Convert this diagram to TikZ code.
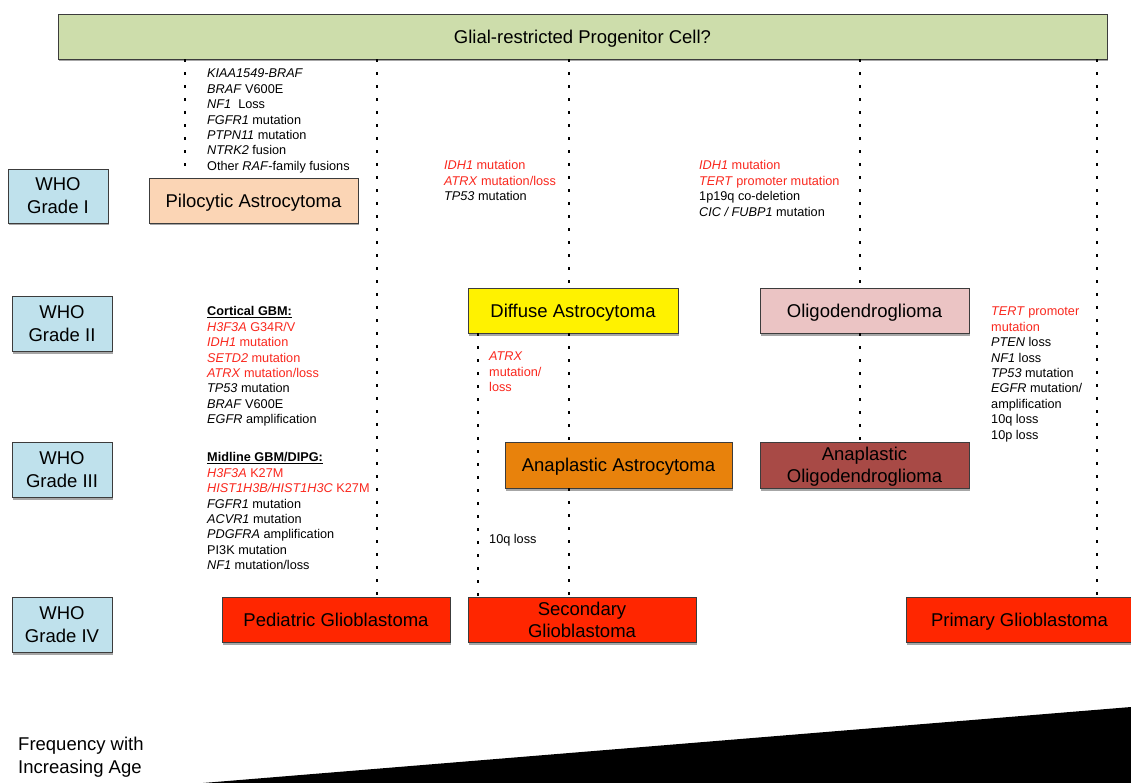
\documentclass[tikz,border=0pt]{standalone}
\usepackage{fontspec}
\setmainfont{Liberation Sans}
\usetikzlibrary{shadows}
\definecolor{topgreen}{RGB}{205,221,171}
\definecolor{whoblue}{RGB}{191,225,236}
\definecolor{peach}{RGB}{251,213,181}
\definecolor{oligopink}{RGB}{235,196,196}
\definecolor{aaorange}{RGB}{232,130,12}
\definecolor{aobrown}{RGB}{168,74,70}
\definecolor{gbmred}{RGB}{255,38,0}
\definecolor{txtred}{RGB}{250,40,30}
\definecolor{bordergray}{RGB}{60,60,60}
\newcommand\rd[1]{\textcolor{txtred}{#1}}
\tikzset{
 box/.style={draw=bordergray, line width=0.9pt, inner sep=0pt, align=center,
   font=\fontsize{18.5}{22}\selectfont, text depth=0pt,
   drop shadow={shadow xshift=1pt, shadow yshift=-2.5pt, opacity=0.35, fill=black}},
 whobox/.style={box, fill=whoblue, minimum width=100pt, font=\fontsize{18.5}{23}\selectfont},
 list/.style={anchor=north west, inner sep=0pt, align=left, font=\fontsize{12.7}{15.45}\selectfont},
 dotline/.style={line width=2.8pt, dash pattern=on 2.8pt off 10.2pt},
}
\begin{document}
\begin{tikzpicture}[x=1pt,y=-1pt]
\path[use as bounding box, fill=white] (0,0) rectangle (1131,783);

% boxes
\node[box, fill=topgreen, minimum width=1049pt, minimum height=45pt] (top) at (582.5,36.5) {Glial-restricted Progenitor Cell?};
\node[whobox, minimum height=54pt] (who1) at (58,196) {WHO\\Grade I};
\node[whobox, minimum height=55pt] (who2) at (62,323.5) {WHO\\Grade II};
\node[whobox, minimum height=55pt] (who3) at (62,469.5) {WHO\\Grade III};
\node[whobox, minimum height=55pt] (who4) at (62,624.5) {WHO\\Grade IV};
\node[box, fill=peach, minimum width=209pt, minimum height=45pt] (pa) at (253.5,200.5) {Pilocytic Astrocytoma};
\node[box, fill=yellow, minimum width=210pt, minimum height=45pt] (da) at (573,310.5) {Diffuse Astrocytoma};
\node[box, fill=oligopink, minimum width=209pt, minimum height=45pt] (od) at (864.5,310.5) {Oligodendroglioma};
\node[box, fill=aaorange, minimum width=227pt, minimum height=46pt] (aa) at (618.5,465) {Anaplastic Astrocytoma};
\node[box, fill=aobrown, minimum width=209pt, minimum height=46pt] (ao) at (864.5,465) {Anaplastic\\Oligodendroglioma};
\node[box, fill=gbmred, minimum width=228pt, minimum height=45pt] (pgbm) at (336,619.5) {Pediatric Glioblastoma};
\node[box, fill=gbmred, minimum width=228pt, minimum height=45pt] (sgbm) at (582,619.5) {Secondary\\Glioblastoma};
\node[box, fill=gbmred, minimum width=227pt, minimum height=45pt] (prgbm) at (1019.5,619.5) {Primary Glioblastoma};

% dotted connectors
\coordinate (x1) at (185,0);
\coordinate (x2) at (377,0);
\coordinate (x3) at (569,0);
\coordinate (x4) at (478,0);
\coordinate (x5) at (860,0);
\coordinate (x6) at (1097,0);
\draw[dotline] (top.south -| x1) -- ([yshift=8pt]pa.north -| x1);
\draw[dotline] (top.south -| x2) -- (pgbm.north -| x2);
\draw[dotline] (top.south -| x3) -- (da.north -| x3);
\draw[dotline] (da.south -| x3) -- (aa.north -| x3);
\draw[dotline] (aa.south -| x3) -- (sgbm.north -| x3);
\draw[dotline] (da.south -| x4) -- (sgbm.north -| x4);
\draw[dotline] (top.south -| x5) -- (od.north -| x5);
\draw[dotline] (od.south -| x5) -- (ao.north -| x5);
\draw[dotline] (top.south -| x6) -- (prgbm.north -| x6);

% text lists
\node[list] (palist) at (207,66.7) {\strut\textit{KIAA1549-BRAF}\\\strut\textit{BRAF} V600E\\\strut\textit{NF1}\ \ Loss\\\strut\textit{FGFR1} mutation\\\strut\textit{PTPN11} mutation\\\strut\textit{NTRK2} fusion\\\strut Other \textit{RAF}-family fusions};
\node[list] (dalist) at (444,158.7) {\strut\rd{\textit{IDH1} mutation}\\\strut\rd{\textit{ATRX} mutation/loss}\\\strut\textit{TP53} mutation};
\node[list] (odlist) at (699,158.7) {\strut\rd{\textit{IDH1} mutation}\\\strut\rd{\textit{TERT} promoter mutation}\\\strut 1p19q co-deletion\\\strut\textit{CIC / FUBP1} mutation};
\node[list] (cortlist) at (207,304.7) {\strut\underline{\textbf{Cortical GBM:}}\\\strut\rd{\textit{H3F3A} G34R/V}\\\strut\rd{\textit{IDH1} mutation}\\\strut\rd{\textit{SETD2} mutation}\\\strut\rd{\textit{ATRX} mutation/loss}\\\strut\textit{TP53} mutation\\\strut\textit{BRAF} V600E\\\strut\textit{EGFR} amplification};
\node[list] (midlist) at (207,450.7) {\strut\underline{\textbf{Midline GBM/DIPG:}}\\\strut\rd{\textit{H3F3A} K27M}\\\strut\rd{\textit{HIST1H3B/HIST1H3C} K27M}\\\strut\textit{FGFR1} mutation\\\strut\textit{ACVR1} mutation\\\strut\textit{PDGFRA} amplification\\\strut PI3K mutation\\\strut\textit{NF1} mutation/loss};
\node[list] (atrx) at (489,349.7) {\strut\rd{\textit{ATRX}}\\\strut\rd{mutation/}\\\strut\rd{loss}};
\node[list] (prlist) at (991,304.7) {\strut\rd{\textit{TERT} promoter}\\\strut\rd{mutation}\\\strut\textit{PTEN} loss\\\strut\textit{NF1} loss\\\strut\textit{TP53} mutation\\\strut\textit{EGFR} mutation/\\\strut amplification\\\strut 10q loss\\\strut 10p loss};
\node[list] (tenq) at (489,532.7) {\strut 10q loss};

% frequency
\node[anchor=north west, inner sep=0pt, align=left, font=\fontsize{18.5}{23}\selectfont] (freq) at (18,734.4) {\strut Frequency with\\\strut Increasing Age};
\fill[black] (203,783) -- (1131,707) -- (1131,783) -- cycle;
\end{tikzpicture}
\end{document}
